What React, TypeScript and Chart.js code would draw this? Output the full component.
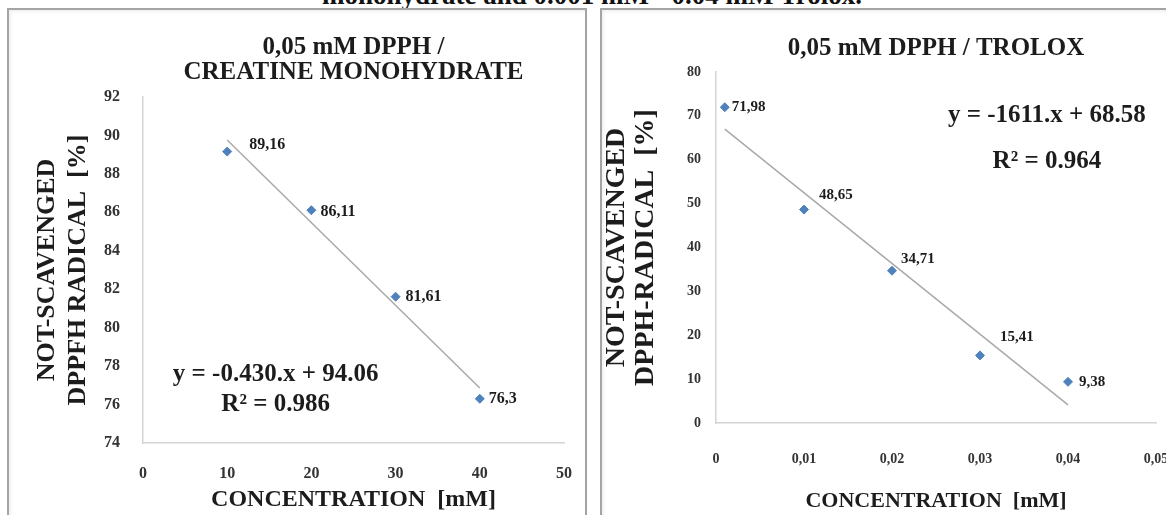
import React, { useEffect, useRef } from 'react';
import { Chart, registerables } from 'chart.js';

Chart.register(...registerables);

const SERIF = '"Liberation Serif", "Times New Roman", serif';

// ---------- Left chart: DPPH / creatine monohydrate ----------
const CREATINE_CONC = [10, 20, 30, 40];
const CREATINE_NOT_SCAVENGED = [89.16, 86.11, 81.61, 76.3];
const CREATINE_X_TICKS = [0, 10, 20, 30, 40, 50];
const CREATINE_Y_TICKS = [74, 76, 78, 80, 82, 84, 86, 88, 90, 92];
const CREATINE_SLOPE = -0.43;
const CREATINE_INTERCEPT = 94.06;
const CREATINE_EQUATION = ['y = -0.430.x + 94.06', 'R\u00B2 = 0.986'];
const CREATINE_TITLE = ['0,05 mM DPPH /', 'CREATINE MONOHYDRATE'];
const CREATINE_Y_TITLE = ['NOT-SCAVENGED', 'DPPFH RADICAL  [%]'];

// ---------- Right chart: DPPH / Trolox ----------
const TROLOX_CONC = [0.001, 0.01, 0.02, 0.03, 0.04];
const TROLOX_NOT_SCAVENGED = [71.98, 48.65, 34.71, 15.41, 9.38];
const TROLOX_X_TICKS = [0, 0.01, 0.02, 0.03, 0.04, 0.05];
const TROLOX_X_TICK_LABELS = ['0', '0,01', '0,02', '0,03', '0,04', '0,05'];
const TROLOX_Y_TICKS = [0, 10, 20, 30, 40, 50, 60, 70, 80];
const TROLOX_SLOPE = -1611;
const TROLOX_INTERCEPT = 68.58;
const TROLOX_EQUATION = ['y = -1611.x + 68.58', 'R\u00B2 = 0.964'];
const TROLOX_TITLE = '0,05 mM DPPH / TROLOX';
const TROLOX_Y_TITLE = ['NOT-SCAVENGED', 'DPPH-RADICAL  [%]'];

const X_TITLE = 'CONCENTRATION  [mM]';
const CAPTION = 'monohydrate and 0.001 mM - 0.04 mM Trolox.';

const MARKER = '#4F81BD';
const TREND = '#a9a9a9';
const AXIS = '#d4d4d4';
const TEXT = '#1c1c1c';
const TICK = '#333333';

const commaLabel = (v: number) => String(v).replace('.', ',');

type OverlayOpts = {
  labels: string[];
  offsets: number[][];
  labelFont: string;
  eq: string[];
  eqX: number;
  eqY: number[];
  eqFont: string;
};

function overlayPlugin(o: OverlayOpts) {
  return {
    id: 'overlay',
    afterDatasetsDraw(chart: any) {
      const ctx = chart.ctx as CanvasRenderingContext2D;
      const meta = chart.getDatasetMeta(0);
      ctx.save();
      ctx.fillStyle = TEXT;
      ctx.font = o.labelFont;
      ctx.textAlign = 'left';
      ctx.textBaseline = 'middle';
      meta.data.forEach((pt: any, i: number) => {
        const off = o.offsets[i] || [8, 0];
        ctx.fillText(o.labels[i], pt.x + off[0], pt.y + off[1]);
      });
      const { left, right, top, bottom } = chart.chartArea;
      ctx.font = o.eqFont;
      ctx.textAlign = 'center';
      o.eq.forEach((line, i) => {
        ctx.fillText(line, left + (right - left) * o.eqX, top + (bottom - top) * o.eqY[i]);
      });
      ctx.restore();
    },
  };
}

function fixedTicks(values: number[]) {
  return (scale: any) => {
    scale.ticks = values.map((v) => ({ value: v }));
  };
}

function creatineConfig(): any {
  return {
    type: 'scatter',
    data: {
      datasets: [
        {
          label: 'Creatine monohydrate',
          data: CREATINE_CONC.map((x, i) => ({ x, y: CREATINE_NOT_SCAVENGED[i] })),
          pointStyle: 'rectRot',
          pointRadius: 4.5,
          backgroundColor: MARKER,
          borderColor: MARKER,
          borderWidth: 1,
        },
        {
          label: 'Linear trend',
          data: [CREATINE_CONC[0], CREATINE_CONC[CREATINE_CONC.length - 1]].map((x) => ({
            x,
            y: CREATINE_SLOPE * x + CREATINE_INTERCEPT,
          })),
          showLine: true,
          borderColor: TREND,
          borderWidth: 1.5,
          pointRadius: 0,
        },
      ],
    },
    options: {
      responsive: false,
      animation: false,
      layout: { padding: { left: 20, right: 20, top: 0, bottom: 0 } },
      plugins: {
        legend: { display: false },
        tooltip: { enabled: false },
        title: {
          display: true,
          text: CREATINE_TITLE,
          fullSize: false,
          color: TEXT,
          font: { family: SERIF, size: 25, weight: 'bold', lineHeight: 1.0 },
          padding: { top: 25.5, bottom: 11.5 },
        },
      },
      scales: {
        x: {
          type: 'linear',
          min: CREATINE_X_TICKS[0],
          max: CREATINE_X_TICKS[CREATINE_X_TICKS.length - 1],
          afterBuildTicks: fixedTicks(CREATINE_X_TICKS),
          afterFit: (s: any) => {
            s.height = 72;
          },
          grid: { display: false },
          border: { display: true, color: AXIS, width: 1.5 },
          ticks: {
            color: TICK,
            padding: 13,
            font: { family: SERIF, size: 16, weight: 'bold' },
            callback: (v: number) => commaLabel(v),
          },
          title: {
            display: true,
            text: X_TITLE,
            color: TEXT,
            font: { family: SERIF, size: 24, weight: 'bold', lineHeight: 1.2 },
            padding: { top: 0, bottom: 1 },
          },
        },
        y: {
          type: 'linear',
          min: CREATINE_Y_TICKS[0],
          max: CREATINE_Y_TICKS[CREATINE_Y_TICKS.length - 1],
          afterBuildTicks: fixedTicks(CREATINE_Y_TICKS),
          afterFit: (s: any) => {
            s.width = 113;
          },
          grid: { display: false },
          border: { display: true, color: AXIS, width: 1.5 },
          ticks: {
            color: TICK,
            padding: 15,
            font: { family: SERIF, size: 16, weight: 'bold' },
          },
          title: {
            display: true,
            text: CREATINE_Y_TITLE,
            color: TEXT,
            font: { family: SERIF, size: 26, weight: 'bold', lineHeight: 1.2 },
            padding: { top: 1.5, bottom: 0 },
          },
        },
      },
    },
    plugins: [
      overlayPlugin({
        labels: CREATINE_NOT_SCAVENGED.map(commaLabel),
        offsets: [
          [22, -7],
          [9, 2],
          [10, 0],
          [9, 0],
        ],
        labelFont: `bold 16px ${SERIF}`,
        eq: CREATINE_EQUATION,
        eqX: 0.315,
        eqY: [0.803, 0.89],
        eqFont: `bold 25px ${SERIF}`,
      }),
    ],
  };
}

function troloxConfig(): any {
  return {
    type: 'scatter',
    data: {
      datasets: [
        {
          label: 'Trolox',
          data: TROLOX_CONC.map((x, i) => ({ x, y: TROLOX_NOT_SCAVENGED[i] })),
          pointStyle: 'rectRot',
          pointRadius: 4.5,
          backgroundColor: MARKER,
          borderColor: MARKER,
          borderWidth: 1,
        },
        {
          label: 'Linear trend',
          data: [TROLOX_CONC[0], TROLOX_CONC[TROLOX_CONC.length - 1]].map((x) => ({
            x,
            y: TROLOX_SLOPE * x + TROLOX_INTERCEPT,
          })),
          showLine: true,
          borderColor: TREND,
          borderWidth: 1.5,
          pointRadius: 0,
        },
      ],
    },
    options: {
      responsive: false,
      animation: false,
      layout: { padding: { left: 0, right: 66, top: 0, bottom: 0 } },
      plugins: {
        legend: { display: false },
        tooltip: { enabled: false },
        title: {
          display: true,
          text: TROLOX_TITLE,
          fullSize: false,
          color: TEXT,
          font: { family: SERIF, size: 25, weight: 'bold', lineHeight: 1.2 },
          padding: { top: 24, bottom: 8 },
        },
      },
      scales: {
        x: {
          type: 'linear',
          min: TROLOX_X_TICKS[0],
          max: TROLOX_X_TICKS[TROLOX_X_TICKS.length - 1],
          afterBuildTicks: fixedTicks(TROLOX_X_TICKS),
          afterFit: (s: any) => {
            s.height = 92;
          },
          grid: { display: false },
          border: { display: true, color: AXIS, width: 1.5 },
          ticks: {
            color: TICK,
            padding: 20,
            font: { family: SERIF, size: 14, weight: 'bold' },
            callback: (_v: number, i: number) => TROLOX_X_TICK_LABELS[i],
          },
          title: {
            display: true,
            text: X_TITLE,
            color: TEXT,
            font: { family: SERIF, size: 22, weight: 'bold', lineHeight: 1.2 },
            padding: { top: 0, bottom: 0 },
          },
        },
        y: {
          type: 'linear',
          min: TROLOX_Y_TICKS[0],
          max: TROLOX_Y_TICKS[TROLOX_Y_TICKS.length - 1],
          afterBuildTicks: fixedTicks(TROLOX_Y_TICKS),
          afterFit: (s: any) => {
            s.width = 114;
          },
          grid: { display: false },
          border: { display: true, color: AXIS, width: 1.5 },
          ticks: {
            color: TICK,
            padding: 7,
            font: { family: SERIF, size: 14, weight: 'bold' },
          },
          title: {
            display: true,
            text: TROLOX_Y_TITLE,
            color: TEXT,
            font: { family: SERIF, size: 28, weight: 'bold', lineHeight: 1.05 },
            padding: { top: 0, bottom: 0 },
          },
        },
      },
    },
    plugins: [
      overlayPlugin({
        labels: TROLOX_NOT_SCAVENGED.map(commaLabel),
        offsets: [
          [7, 0],
          [15, -14],
          [9, -12],
          [20, -18],
          [11, 0],
        ],
        labelFont: `bold 15px ${SERIF}`,
        eq: TROLOX_EQUATION,
        eqX: 0.752,
        eqY: [0.125, 0.254],
        eqFont: `bold 25px ${SERIF}`,
      }),
    ],
  };
}

function ChartCanvas({ make, width, height }: { make: () => any; width: number; height: number }) {
  const ref = useRef<HTMLCanvasElement | null>(null);
  useEffect(() => {
    if (!ref.current) return;
    const chart = new Chart(ref.current, make());
    return () => chart.destroy();
  }, [make]);
  return (
    <canvas
      ref={ref}
      width={width}
      height={height}
      style={{ position: 'absolute', left: 0, top: 0, width, height }}
    />
  );
}

const panelStyle: React.CSSProperties = {
  position: 'absolute',
  top: 8,
  height: 540,
  boxSizing: 'border-box',
  border: '2px solid #a4a4a4',
  background: '#ffffff',
  overflow: 'hidden',
  boxShadow: 'inset 2px 2px 3px rgba(0,0,0,0.06)',
};

export default function App() {
  return (
    <div
      style={{
        position: 'fixed',
        left: 0,
        top: 0,
        width: 1166,
        height: 515,
        overflow: 'hidden',
        background: '#ffffff',
      }}
    >
      <div
        style={{
          position: 'absolute',
          left: 0,
          top: -18,
          width: 1184,
          textAlign: 'center',
          fontFamily: SERIF,
          fontWeight: 'bold',
          fontSize: 27,
          lineHeight: '27px',
          color: '#111',
          whiteSpace: 'nowrap',
        }}
      >
        {CAPTION}
      </div>
      <div style={{ ...panelStyle, left: 7, width: 580 }}>
        <div style={{ position: 'absolute', left: 1, top: 0 }}>
          <ChartCanvas make={creatineConfig} width={575} height={505} />
        </div>
      </div>
      <div style={{ ...panelStyle, left: 600, width: 580 }}>
        <ChartCanvas make={troloxConfig} width={620} height={505} />
      </div>
    </div>
  );
}
